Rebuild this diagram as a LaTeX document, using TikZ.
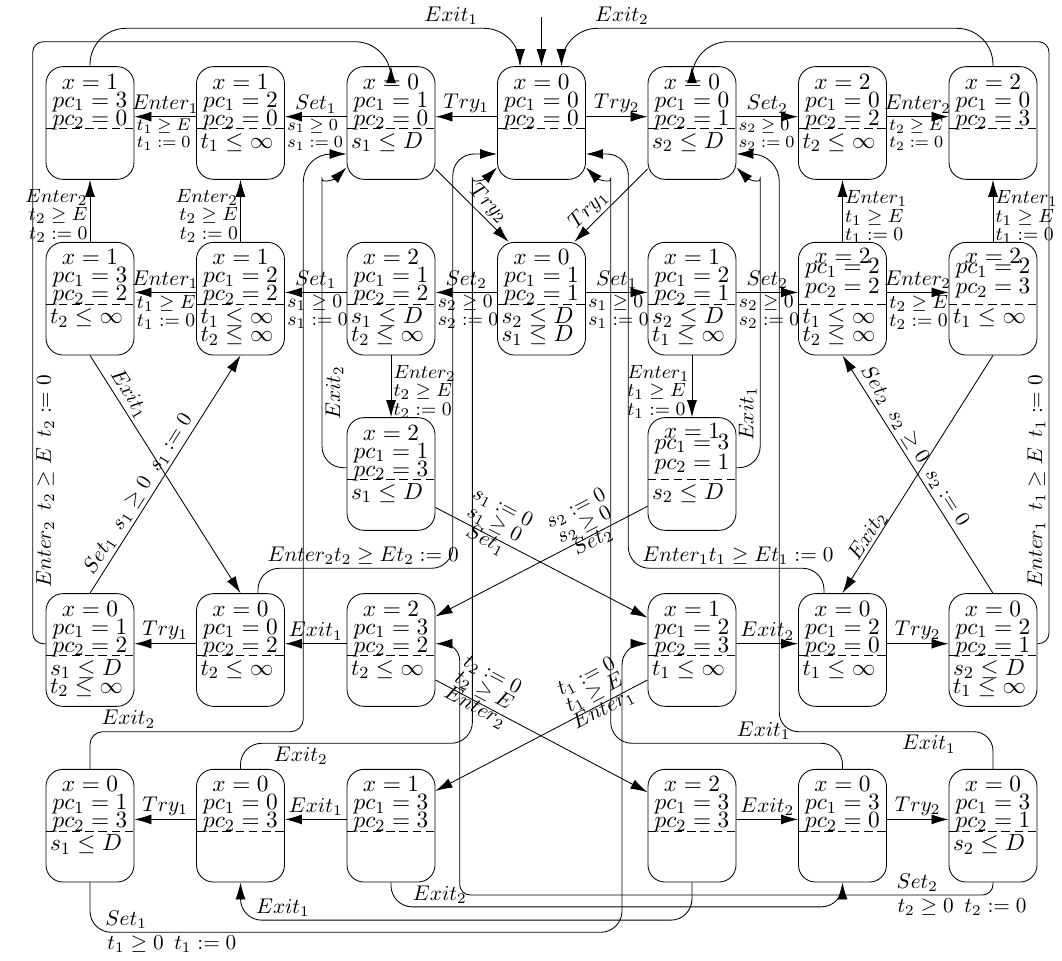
\documentclass[tikz,border=0pt]{standalone}
\usetikzlibrary{arrows.meta}

\newlength{\pxu}
\setlength{\pxu}{0.47pt}
% baselines of the three top lines of a location, counted from its top
\newcommand{\lya}{23}
\newcommand{\lyb}{41}
\newcommand{\lyc}{59}
% location: name, position, x, pc_1, pc_2, two invariant lines
\newcommand{\loc}[7]{%
  \node[loc] (#1) at (#2) {};
  \node[ltxt] at ([shift={(0,\lya)}]#1.north) {$x=#3$};
  \node[ltxt] at ([shift={(0,\lyb)}]#1.north) {$pc_1=#4$};
  \node[ltxt] at ([shift={(0,\lyc)}]#1.north) {$pc_2=#5$};
  \draw[sepline] ([shift={(0,62.5)}]#1.north west) -- ([shift={(0,62.5)}]#1.north east);
  \if\relax\detokenize{#6}\relax\else\node[itxt] at ([shift={(4,82)}]#1.north west) {#6};\fi
  \if\relax\detokenize{#7}\relax\else\node[itxt] at ([shift={(4,100)}]#1.north west) {#7};\fi
}

\begin{document}
\begin{tikzpicture}[x=\pxu, y=-\pxu,
  loc/.style={draw, rounded corners=8pt, minimum width=88\pxu, minimum height=112.7\pxu, inner sep=0pt},
  ltxt/.style={anchor=base, inner sep=0pt, font=\fontsize{10.95}{12}\selectfont},
  itxt/.style={anchor=base west, inner sep=0pt, font=\fontsize{10.95}{12}\selectfont},
  sepline/.style={dash pattern=on 4pt off 2.2pt},
  arr/.style={-{Latex[length=8pt,width=4.7pt]}},
  hz/.style={transform canvas={yshift=6.3\pxu}},
  lbl/.style={font=\fontsize{10}{8.7}\selectfont, inner sep=1.5pt},
  grd/.style={lbl, align=left, font=\fontsize{9.3}{8.7}\selectfont, inner sep=1pt},
  grdt/.style={grd, font=\fontsize{8.4}{8}\selectfont},
  tri/.style={lbl, align=center, sloped, above, inner ysep=-7pt}
]
\useasboundingbox (0,0) rectangle (1062,961);

% top row
\loc{r1c1}{90,123}{1}{3}{0}{}{}
\loc{r1c2}{240.5,123}{1}{2}{0}{$t_1\leq\infty$}{}
\loc{r1c3}{391,123}{0}{1}{0}{$s_1\leq D$}{}
\loc{r1c4}{541.5,123}{0}{0}{0}{}{}
\loc{r1c5}{692,123}{0}{0}{1}{$s_2\leq D$}{}
\loc{r1c6}{842.5,123}{2}{0}{2}{$t_2\leq\infty$}{}
\loc{r1c7}{993,123}{2}{0}{3}{}{}
% second row
\loc{r2c1}{90,298.7}{1}{3}{2}{$t_2\leq\infty$}{}
\loc{r2c2}{240.5,298.7}{1}{2}{2}{$t_1\leq\infty$}{$t_2\leq\infty$}
\loc{r2c3}{391,298.7}{2}{1}{2}{$s_1\leq D$}{$t_2\leq\infty$}
\loc{r2c4}{541.5,298.7}{0}{1}{1}{$s_2\leq D$}{$s_1\leq D$}
\loc{r2c5}{692,298.7}{1}{2}{1}{$s_2\leq D$}{$t_1\leq\infty$}
{\renewcommand{\lya}{21.5}\renewcommand{\lyb}{32}\renewcommand{\lyc}{52}
\loc{r2c6}{842.5,298.7}{2}{2}{2}{$t_1\leq\infty$}{$t_2\leq\infty$}
\loc{r2c7}{993,298.7}{2}{2}{3}{$t_1\leq\infty$}{}
\loc{m5}{692,474}{1}{3}{1}{$s_2\leq D$}{}}
\loc{m3}{391,474}{2}{1}{3}{$s_1\leq D$}{}
% third row
\loc{r3c1}{90,650}{0}{1}{2}{$s_1\leq D$}{$t_2\leq\infty$}
\loc{r3c2}{240.5,650}{0}{0}{2}{$t_2\leq\infty$}{}
\loc{r3c3}{391,650}{2}{3}{2}{$t_2\leq\infty$}{}
\loc{r3c5}{692,650}{1}{2}{3}{$t_1\leq\infty$}{}
\loc{r3c6}{842.5,650}{0}{2}{0}{$t_1\leq\infty$}{}
\loc{r3c7}{993,650}{0}{2}{1}{$s_2\leq D$}{$t_1\leq\infty$}
% bottom row
\loc{r4c1}{90,825.7}{0}{1}{3}{$s_1\leq D$}{}
\loc{r4c2}{240.5,825.7}{0}{0}{3}{}{}
\loc{r4c3}{391,825.7}{1}{3}{3}{}{}
\loc{r4c5}{692,825.7}{2}{3}{3}{}{}
\loc{r4c6}{842.5,825.7}{0}{3}{0}{}{}
\loc{r4c7}{993,825.7}{0}{3}{1}{$s_2\leq D$}{}

\coordinate (init) at (541.5,17);
\draw[arr] (init) -- (r1c4.north);

% horizontal moves
\draw[arr,hz] (r1c4) -- node[lbl,above]{$Try_1$} (r1c3);
\draw[arr,hz] (r1c3) -- node[lbl,above]{$Set_1$} node[grdt,below right,pos=1]{$s_1\geq 0$\\$s_1:=0$} (r1c2);
\draw[arr,hz] (r1c2) -- node[lbl,above]{$Enter_1$} node[grdt,below right,pos=1]{$t_1\geq E$\\$t_1:=0$} (r1c1);
\draw[arr,hz] (r1c4) -- node[lbl,above]{$Try_2$} (r1c5);
\draw[arr,hz] (r1c5) -- node[lbl,above]{$Set_2$} node[grdt,below right,pos=0]{$s_2\geq 0$\\$s_2:=0$} (r1c6);
\draw[arr,hz] (r1c6) -- node[lbl,above]{$Enter_2$} node[grdt,below right,pos=0]{$t_2\geq E$\\$t_2:=0$} (r1c7);

\draw[arr,hz] (r2c4) -- node[lbl,above]{$Set_2$} node[grd,below right,pos=1]{$s_2\geq 0$\\$s_2:=0$} (r2c3);
\draw[arr,hz] (r2c3) -- node[lbl,above]{$Set_1$} node[grd,below right,pos=1]{$s_1\geq 0$\\$s_1:=0$} (r2c2);
\draw[arr,hz] (r2c2) -- node[lbl,above]{$Enter_1$} node[grd,below right,pos=1]{$t_1\geq E$\\$t_1:=0$} (r2c1);
\draw[arr,hz] (r2c4) -- node[lbl,above]{$Set_1$} node[grd,below right,pos=0]{$s_1\geq 0$\\$s_1:=0$} (r2c5);
\draw[arr,hz] (r2c5) -- node[lbl,above]{$Set_2$} node[grd,below right,pos=0]{$s_2\geq 0$\\$s_2:=0$} (r2c6);
\draw[arr,hz] (r2c6) -- node[lbl,above]{$Enter_2$} node[grd,below right,pos=0]{$t_2\geq E$\\$t_2:=0$} (r2c7);

\draw[arr,hz] (r3c3) -- node[lbl,above]{$Exit_1$} (r3c2);
\draw[arr,hz] (r3c2) -- node[lbl,above]{$Try_1$} (r3c1);
\draw[arr,hz] (r3c5) -- node[lbl,above]{$Exit_2$} (r3c6);
\draw[arr,hz] (r3c6) -- node[lbl,above]{$Try_2$} (r3c7);

\draw[arr,hz] (r4c3) -- node[lbl,above]{$Exit_1$} (r4c2);
\draw[arr,hz] (r4c2) -- node[lbl,above]{$Try_1$} (r4c1);
\draw[arr,hz] (r4c5) -- node[lbl,above]{$Exit_2$} (r4c6);
\draw[arr,hz] (r4c6) -- node[lbl,above]{$Try_2$} (r4c7);

% vertical moves
\draw[arr] (r2c1) -- node[grd,left,align=right,pos=.42]{$Enter_2$\\$t_2\geq E$\\$t_2:=0$} (r1c1);
\draw[arr] (r2c2) -- node[grd,left,align=right,pos=.42]{$Enter_2$\\$t_2\geq E$\\$t_2:=0$} (r1c2);
\draw[arr] (r2c6) -- node[grd,right,pos=.4]{$Enter_1$\\$t_1\geq E$\\$t_1:=0$} (r1c6);
\draw[arr] (r2c7) -- node[grd,right,pos=.4]{$Enter_1$\\$t_1\geq E$\\$t_1:=0$} (r1c7);
\draw[arr] (r2c3) -- node[grd,right,pos=.59]{$Enter_2$\\$t_2\geq E$\\$t_2:=0$} (m3);
\draw[arr] (r2c5) -- node[grd,left,pos=.59]{$Enter_1$\\$t_1\geq E$\\$t_1:=0$} (m5);

% diagonal moves
\draw[arr] (r1c3.-46) -- node[lbl,sloped,above,pos=.6]{$Try_2$} (r2c4.120);
\draw[arr] (r1c5.-134) -- node[lbl,sloped,above,pos=.68]{$Try_1$} (r2c4.60);
\draw[arr] (r2c1.south) -- node[lbl,sloped,above,pos=.19]{$Exit_1$} (r3c2.north);
\draw[arr] (r3c1.north) -- node[lbl,sloped,above,pos=.39]{$Set_1\enspace s_1\geq 0\enspace s_1:=0$} (r2c2.south);
\draw[arr] (r2c7.south) -- node[lbl,sloped,above,inner sep=0pt,pos=.78]{$Exit_2$} (r3c6.north);
\draw[arr] (r3c7.north) -- node[lbl,sloped,above,pos=.59]{$Set_2\enspace s_2\geq 0\enspace s_2:=0$} (r2c6.south);
\draw[arr] (m3.-37) -- node[tri,pos=.25]{$s_1:=0$\\$s_1\geq 0$\\$Set_1$} (r3c5.144);
\draw[arr] (m5.-144) -- node[tri,pos=.27]{$s_2:=0$\\$s_2\geq 0$\\$Set_2$} (r3c3.37);
\draw[arr] (r3c3.-34) -- node[tri,pos=.2]{$t_2:=0$\\$t_2\geq E$\\$Enter_2$} (r4c5.143);
\draw[arr] (r3c5.-146) -- node[tri,pos=.22]{$t_1:=0$\\$t_1\geq E$\\$Enter_1$} (r4c3.38);

% long ways round
\draw[arr,rounded corners=17pt] (r1c1.north) |- node[lbl,above,pos=.92]{$Exit_1$} (520,28.3) -- (520,0 |- r1c4.north);
\draw[arr,rounded corners=17pt] (r1c7.north) |- node[lbl,above,pos=.93]{$Exit_2$} (561.5,28.3) -- (561.5,0 |- r1c4.north);
\draw[arr] ([shift={(0,-6.3)}]r3c1.west) [rounded corners=5pt] -| node[lbl,sloped,below,pos=.635]{$Enter_2\enspace t_2\geq E\enspace t_2:=0$} (32.7,41.7) [rounded corners=17pt] -- (391,41.7) [rounded corners=9pt] -- (r1c3.north);
\draw[arr] ([shift={(0,-6.3)}]r3c7.east) [rounded corners=5pt] -| node[lbl,sloped,above,pos=.635]{$Enter_1\enspace t_1\geq E\enspace t_1:=0$} (1049,41.7) [rounded corners=17pt] -- (692,41.7) [rounded corners=8pt] -- (r1c5.north);

\draw[arr,rounded corners=10pt] ([shift={(0,-6.3)}]m3.west) -| node[lbl,sloped,below,pos=.64]{$Exit_2$} (322,200) to[out=90,in=225] (r1c3.225);
\draw[arr] (r4c1.north) [rounded corners=6pt] |- node[lbl,above,pos=.59]{$Exit_2$} (303.3,731.7) [rounded corners=13pt] -- (303.3,154) [rounded corners=9pt] -- (r1c3.west |- 0,154);
\draw[arr] (r4c2.north) [rounded corners=10pt] |- node[lbl,below,pos=.63]{$Exit_2$} (472.4,743.3) -- (472.4,200) to[out=90,in=225] (r1c4.225);
\draw[arr] ([shift={(17.5,0)}]r3c2.north) [rounded corners=10pt] |- node[lbl,above,pos=.77]{$Enter_2t_2\geq Et_2:=0$} (452.8,568.3) -- (452.8,154) -- (r1c4.west |- 0,154);
\draw[arr] ([shift={(-18.5,0)}]r3c6.north) [rounded corners=10pt] |- node[lbl,above,pos=.72]{$Enter_1t_1\geq Et_1:=0$} (628.3,568.3) -- (628.3,154) -- (r1c4.east |- 0,154);
\draw[arr] (r4c6.north) [rounded corners=10pt] |- node[lbl,above,pos=.67]{$Exit_1$} (610.7,743.3) -- (610.7,200) to[out=90,in=-45] (r1c4.-45);
\draw[arr,rounded corners=10pt] ([shift={(0,-6.3)}]m5.east) -| node[lbl,sloped,above,pos=.6]{$Exit_1$} (760.2,200) to[out=90,in=-45] (r1c5.-45);
\draw[arr] (r4c7.north) [rounded corners=9pt] |- node[lbl,below,pos=.65]{$Exit_1$} (779.3,731.7) [rounded corners=13pt] -- (779.3,154) [rounded corners=9pt] -- (r1c5.east |- 0,154);

\draw[arr,rounded corners=10pt] (r4c1.south) |- node[lbl,above,pos=.534]{$Set_1$} node[lbl,below,pos=.577]{$t_1\geq 0\enspace t_1:=0$} (622,932.3) |- ([shift={(0,-6.3)}]r3c5.west);
\draw[arr] (r4c7.south) [rounded corners=5pt] |- node[lbl,above,pos=.571]{$Set_2$} node[lbl,below,pos=.529]{$t_2\geq 0\enspace t_2:=0$} (459.7,895) [rounded corners=8pt] |- ([shift={(0,-6.3)}]r3c3.east);
\draw[arr,rounded corners=10pt] (r4c3.south) |- node[lbl,above,pos=.554]{$Exit_2$} ([shift={(0,24.4)}]r4c6.south) -- (r4c6.south);
\draw[arr,rounded corners=10pt] (r4c5.south) |- node[lbl,above,pos=.953]{$Exit_1$} ([shift={(0,37.7)}]r4c2.south) -- (r4c2.south);
\end{tikzpicture}
\end{document}
